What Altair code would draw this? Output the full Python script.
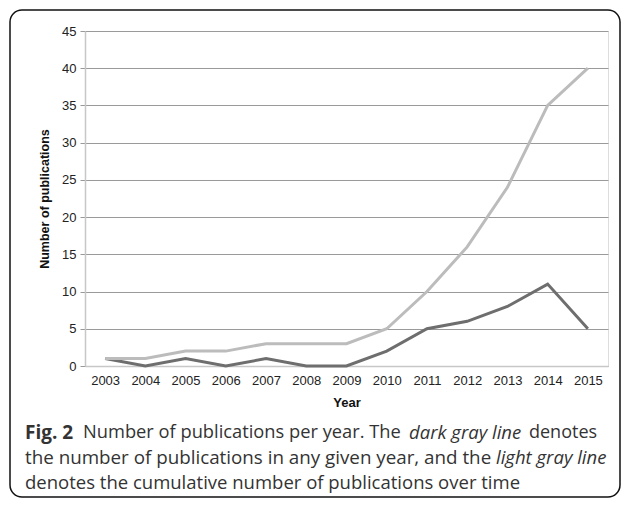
import altair as alt
import pandas as pd

years = [2003, 2004, 2005, 2006, 2007, 2008, 2009, 2010, 2011, 2012, 2013, 2014, 2015]
per_year = [1, 0, 1, 0, 1, 0, 0, 2, 5, 6, 8, 11, 5]
cumulative = [1, 1, 2, 2, 3, 3, 3, 5, 10, 16, 24, 35, 40]
y_ticks = [0, 5, 10, 15, 20, 25, 30, 35, 40, 45]

x_title = "Year"
y_title = "Number of publications"

cap1 = ["Fig. 2", "Number of publications per year. The", "dark gray line", "denotes"]
cap2 = ["the number of publications in any given year, and the", "light gray line"]
cap3 = ["denotes the cumulative number of publications over time"]

df = pd.DataFrame({
    "Year": [str(y) for y in years] * 2,
    "Count": per_year + cumulative,
    "Series": ["per year"] * len(years) + ["cumulative"] * len(years),
})

x_enc = alt.X("Year:N", title=x_title, sort=[str(y) for y in years],
              scale=alt.Scale(type="point", padding=0.5),
              axis=alt.Axis(labelAngle=0, ticks=False, grid=False, domainColor="#c8c8c8",
                            domainWidth=1.5, labelFont="Liberation Sans", labelFontSize=13,
                            labelColor="#222", labelPadding=8, titleFont="Liberation Sans",
                            titleFontSize=13, titleFontWeight="bold", titleColor="#111",
                            titlePadding=9))
y_enc = alt.Y("Count:Q", title=y_title,
              scale=alt.Scale(domain=[0, 45], nice=False),
              axis=alt.Axis(values=y_ticks, grid=True, gridColor="#9a9a9a", gridWidth=1,
                            domainColor="#c8c8c8", domainWidth=1.5, tickColor="#9a9a9a",
                            tickSize=5, labelFont="Liberation Sans", labelFontSize=13,
                            labelColor="#222", labelPadding=4, titleFont="Liberation Sans",
                            titleFontSize=12.5, titleFontWeight="bold", titleColor="#111",
                            titlePadding=10))

lines = alt.Chart(df).mark_line(strokeWidth=3).encode(
    x=x_enc, y=y_enc,
    color=alt.Color("Series:N", scale=alt.Scale(domain=["cumulative", "per year"],
                                                range=["#bcbcbc", "#6e6e6e"]), legend=None),
    order=alt.Order("Series:N"),
)

one = pd.DataFrame({"a": [0]})
border = alt.Chart(one).mark_rect(fill=None, stroke="#111", strokeWidth=1.5,
                                  cornerRadius=12, clip=False).encode(
    x=alt.value(-75), x2=alt.value(535), y=alt.value(-21), y2=alt.value(466))

def seg(text, x, y, style="normal", weight="normal", size=18):
    return alt.Chart(one).mark_text(text=text, align="left", baseline="middle",
                                    font="Open Sans", fontSize=size, fontStyle=style,
                                    fontWeight=weight, color="#333").encode(
        x=alt.value(x), y=alt.value(y))

caption = [
    seg(cap1[0], -60, 402, weight="bold", size=19),
    seg(cap1[1], -2, 402, size=18.3),
    seg(cap1[2], 324, 402, style="italic", size=18.5),
    seg(cap1[3], 444, 402),
    seg(cap2[0], -60, 427, size=18.8),
    seg(cap2[1], 411, 427, style="italic", size=18.5),
    seg(cap3[0], -60, 452, size=18.5),
]

chart = alt.layer(lines, border, *caption).properties(
    width=523, height=335,
    autosize=alt.AutoSizeParams(type="none"),
    padding={"left": 77, "top": 23, "right": 13, "bottom": 132},
).configure_view(stroke=None).configure(background="white")

chart.save("out.html", embed_options={"renderer": "svg", "actions": False})
